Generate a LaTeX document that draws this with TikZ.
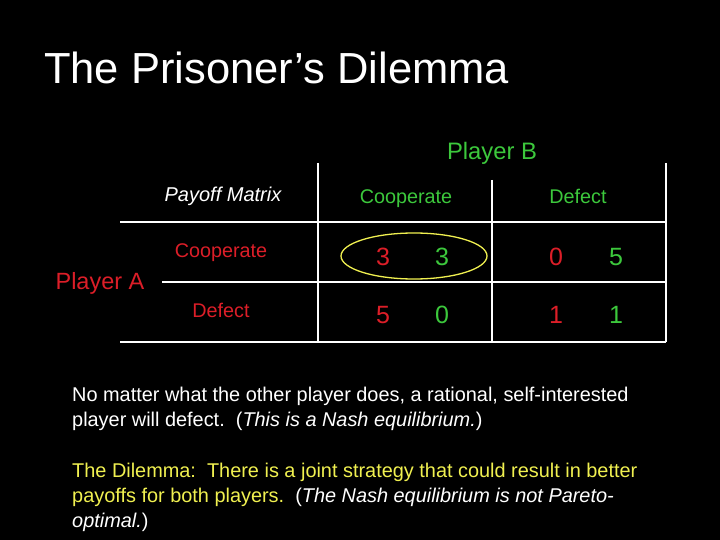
\documentclass[tikz,border=0pt]{standalone}
\usepackage{fontspec}
\setmainfont{Liberation Sans}
\begin{document}
\begin{tikzpicture}[x=1pt,y=-1pt,
 ln/.style={white,line width=1.6pt},
 t/.style={inner sep=0,anchor=base,font=\fontsize{19.8}{22}\selectfont},
 num/.style={inner sep=0,anchor=base,font=\fontsize{25}{27}\selectfont},
 body/.style={inner sep=0,anchor=base west,font=\fontsize{19.9}{22}\selectfont}]
\definecolor{rd}{RGB}{220,30,40}
\definecolor{gr}{RGB}{60,200,60}
\definecolor{yl}{RGB}{240,240,80}
\fill[black] (0,0) rectangle (720,540);
\useasboundingbox (0,0) rectangle (720,540);
\node[inner sep=0,anchor=base west,white,font=\fontsize{43.5}{48}\selectfont] (title) at (44,84) {The Prisoner’s Dilemma};
\node[inner sep=0,anchor=base,gr,font=\fontsize{23.8}{26}\selectfont] (pb) at (492,160) {Player B};
\node[inner sep=0,anchor=base,rd,font=\fontsize{23.5}{26}\selectfont] (pa) at (100,289) {Player A};
\node[t,white,font=\fontsize{20}{22}\selectfont\itshape] (pm) at (223,202) {Payoff Matrix};
\node[t,gr] (bc) at (406,204) {Cooperate};
\node[t,gr] (bd) at (578,204) {Defect};
\node[t,rd] (ac) at (221,257) {Cooperate};
\node[t,rd] (ad) at (221,317) {Defect};
\node[num,rd] (n1) at (383,265) {3};
\node[num,gr] (n2) at (442,265) {3};
\node[num,rd] (n3) at (556,265) {0};
\node[num,gr] (n4) at (616,265) {5};
\node[num,rd] (n5) at (383,323) {5};
\node[num,gr] (n6) at (442,323) {0};
\node[num,rd] (n7) at (556,323) {1};
\node[num,gr] (n8) at (616,323) {1};
\draw[yl,line width=1.3pt] (414,256) ellipse (73 and 23);
\draw[ln] (120,222) -- (666,222);
\draw[ln] (162,282) -- (666,282);
\draw[ln] (120,342) -- (666,342);
\draw[ln] (318,163) -- (318,342);
\draw[ln] (492,180) -- (492,342);
\draw[ln] (666,163) -- (666,342);
\node[body,white] (l1) at (72,401) {No matter what the other player does, a rational, self-interested};
\node[body,white] (l2) at (72,426) {player will defect.\ \ (\textit{This is a Nash equilibrium.})};
\node[body,yl] (l3) at (72,477) {The Dilemma:\ \ There is a joint strategy that could result in better};
\node[body,yl] (l4) at (72,502) {payoffs for both players.\ \ \textcolor{white}{(\textit{The Nash equilibrium is not Pareto-}}};
\node[body,white] (l5) at (72,527) {\textit{optimal.})};
\end{tikzpicture}
\end{document}
